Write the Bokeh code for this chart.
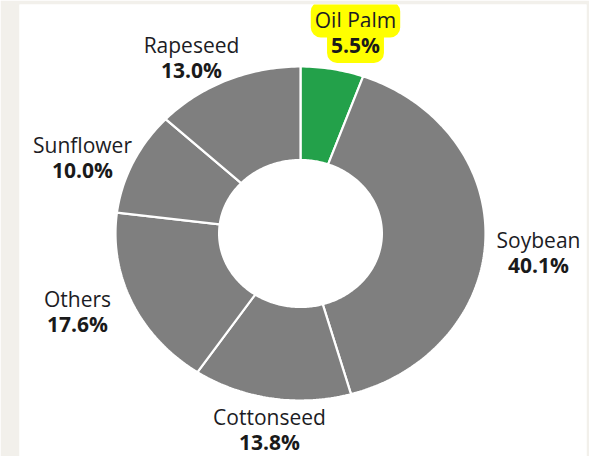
import numpy as np
from bokeh.plotting import figure
from bokeh.models import Range1d, ColumnDataSource
from bokeh.core.properties import value
from bokeh.embed import file_html
from bokeh.resources import INLINE

# ---- data ----
categories = ["Oil Palm", "Soybean", "Cottonseed", "Others", "Sunflower", "Rapeseed"]
shares = [5.5, 40.1, 13.8, 17.6, 10.0, 13.0]
pct_labels = ["5.5%", "40.1%", "13.8%", "17.6%", "10.0%", "13.0%"]
highlighted = ["Oil Palm"]

# ---- layout / style ----
CX, CY, RX, RY, HOLE = 300, 233, 185, 167, 0.44
label_x = [355, 538, 269, 77, 82, 191]
label_base = [19, 239, 416, 298, 144, 44]
LINE_GAP = 25.5
GREY = "#7f7f7f"
GREEN = "#23a14a"
FONT = "Open Sans"

vals = np.array(shares, dtype=float)
bounds = np.concatenate([[0.0], np.cumsum(vals)]) / vals.sum() * 2 * np.pi

xs, ys, colors = [], [], []
for i, cat in enumerate(categories):
    a0, a1 = bounds[i], bounds[i + 1]
    n = max(4, int((a1 - a0) / (2 * np.pi) * 400))
    t = np.linspace(a0, a1, n)
    ox = CX + RX * np.sin(t)
    oy = CY - RY * np.cos(t)
    ix = CX + HOLE * RX * np.sin(t[::-1])
    iy = CY - HOLE * RY * np.cos(t[::-1])
    xs.append(np.concatenate([ox, ix]).tolist())
    ys.append(np.concatenate([oy, iy]).tolist())
    colors.append(GREEN if cat in highlighted else GREY)

p = figure(width=589, height=456, output_backend="svg", toolbar_location=None,
           x_range=Range1d(19, 586), y_range=Range1d(456, 4),
           x_axis_type=None, y_axis_type=None,
           min_border_left=19, min_border_right=3, min_border_top=4, min_border_bottom=0)
p.grid.visible = False
p.outline_line_color = None
p.border_fill_color = "#f2f0eb"
p.background_fill_color = "white"

p.patches(xs=xs, ys=ys, fill_color=colors, line_color="white", line_width=2.2)

normal_idx = [i for i, c in enumerate(categories) if c not in highlighted]
hi_idx = [i for i, c in enumerate(categories) if c in highlighted]

def add_labels(idx, **extra):
    src = ColumnDataSource(dict(
        x=[label_x[i] for i in idx],
        y1=[label_base[i] for i in idx],
        y2=[label_base[i] + LINE_GAP for i in idx],
        name=[categories[i] for i in idx],
        pct=[pct_labels[i] for i in idx],
    ))
    p.text(x="x", y="y1", text="name", source=src, text_align="center",
           text_baseline="alphabetic", text_font=value(FONT), text_font_size="21px",
           text_color="#1c1c24", **extra)
    p.text(x="x", y="y2", text="pct", source=src, text_align="center",
           text_baseline="alphabetic", text_font=value(FONT), text_font_size="21px",
           text_font_style="bold", text_color="#1a1a1a", **extra)

add_labels(normal_idx)
add_labels(hi_idx, background_fill_color="#ffff00", padding=4, border_radius=10)

open("out.html", "w").write(file_html(p, INLINE))
